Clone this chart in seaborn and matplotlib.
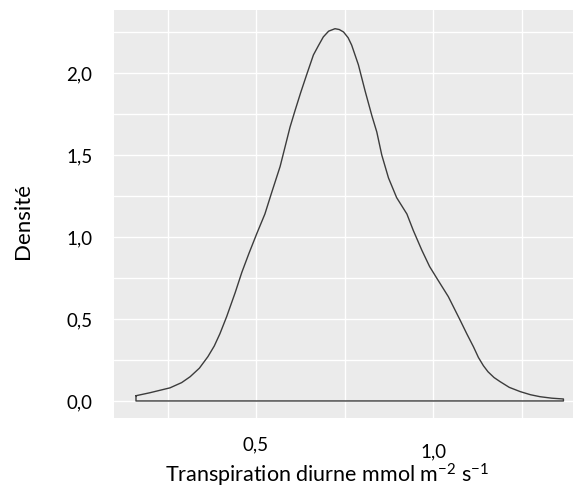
import numpy as np
import pandas as pd
import matplotlib
matplotlib.use("Agg")
import matplotlib.pyplot as plt
import seaborn as sns

# ── Density curve (x = transpiration, y = density) ────
transpiration = [0.161, 0.20, 0.257, 0.29, 0.314, 0.34, 0.364, 0.382, 0.398,
                 0.417, 0.441, 0.46, 0.48, 0.502, 0.525, 0.544, 0.568, 0.582,
                 0.596, 0.61, 0.626, 0.643, 0.662, 0.677, 0.69, 0.705, 0.723,
                 0.735, 0.747, 0.76, 0.77, 0.789, 0.808, 0.827, 0.841, 0.855,
                 0.874, 0.897, 0.926, 0.944, 0.968, 0.99, 1.01, 1.043, 1.076,
                 1.095, 1.114, 1.128, 1.142, 1.155, 1.172, 1.189, 1.215, 1.246,
                 1.275, 1.302, 1.335, 1.368]
densite = [0.032, 0.05, 0.08, 0.112, 0.148, 0.20, 0.27, 0.335, 0.41,
           0.514, 0.66, 0.785, 0.90, 1.02, 1.14, 1.27, 1.43, 1.55,
           1.67, 1.77, 1.88, 1.99, 2.11, 2.17, 2.22, 2.255, 2.27,
           2.265, 2.25, 2.215, 2.17, 2.05, 1.89, 1.74, 1.64, 1.50,
           1.36, 1.24, 1.14, 1.04, 0.92, 0.82, 0.75, 0.636, 0.494,
           0.41, 0.33, 0.265, 0.215, 0.178, 0.143, 0.118, 0.083, 0.057,
           0.038, 0.026, 0.017, 0.012]

y_ticks = [0.0, 0.25, 0.5, 0.75, 1.0, 1.25, 1.5, 1.75, 2.0, 2.25]
y_labels = ["0,0", "", "0,5", "", "1,0", "", "1,5", "", "2,0", ""]
x_ticks = [0.25, 0.5, 0.75, 1.0, 1.25]
x_labels = ["", "0,5", "", "", ""]
x_low_tick = [1.0]
x_low_label = ["1,0"]

# closed outline, like a density polygon
poly_x = transpiration + [transpiration[-1], transpiration[0], transpiration[0]]
poly_y = densite + [0.0, 0.0, densite[0]]
df = pd.DataFrame({"x": poly_x, "y": poly_y})

sns.set_theme(style="darkgrid", rc={
    "axes.facecolor": "#EBEBEB",
    "grid.color": "white",
    "grid.linewidth": 1.0,
    "axes.edgecolor": "#EBEBEB",
})
plt.rcParams["font.family"] = ["Lato", "DejaVu Sans"]
plt.rcParams["mathtext.fontset"] = "custom"
plt.rcParams["mathtext.rm"] = "Lato"

fig = plt.figure(figsize=(5.73, 4.88), dpi=100)
ax = fig.add_axes([0.199, 0.1434, 0.801, 0.8361])

sns.lineplot(data=df, x="x", y="y", sort=False, estimator=None,
             color="#3c3c3c", linewidth=1.0, ax=ax)

ax.set_xlim(0.099, 1.395)
ax.set_ylim(-0.104, 2.384)

# grid every 0.25, labels only where the reference shows them
ax.xaxis.remove_overlapping_locs = False
ax.set_xticks(x_ticks, labels=x_labels)
ax.set_xticks(x_low_tick, labels=x_low_label, minor=True)
ax.set_yticks(y_ticks, labels=y_labels)
ax.grid(True, which="major")
ax.grid(False, which="minor")

ax.tick_params(axis="y", length=0, pad=15.5, labelsize=13.5, colors="black")
ax.tick_params(axis="x", which="major", length=0, pad=13, labelsize=13.5,
               colors="black")
ax.tick_params(axis="x", which="minor", length=0, pad=18.5, labelsize=13.5,
               colors="black")

for s in ax.spines.values():
    s.set_visible(False)

ax.set_xlabel(r"Transpiration diurne mmol m$\mathregular{^{-2}}$ s$\mathregular{^{-1}}$",
              fontsize=15.5, color="black")
ax.set_ylabel("Densité", fontsize=16, color="black")
ax.xaxis.set_label_coords(0.463, -0.108)
ax.yaxis.set_label_coords(-0.176, 0.483)

fig.savefig("out.png", dpi=100, facecolor="white")
plt.close(fig)
